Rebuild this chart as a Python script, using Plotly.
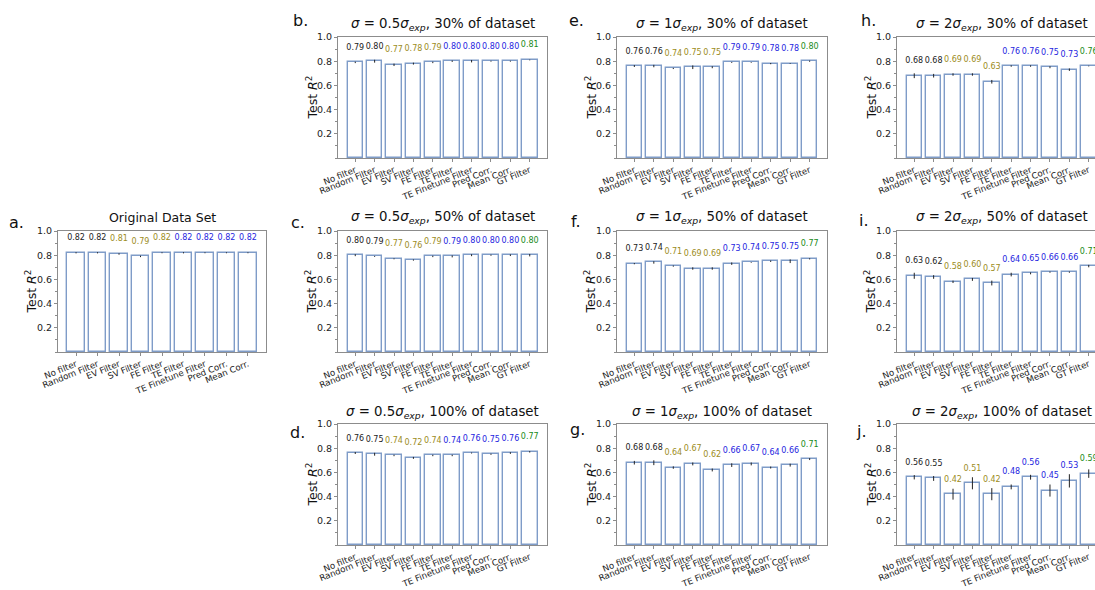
import plotly.graph_objects as go

W, H = 1095, 590

categories = ["No filter", "Random Filter", "EV Filter", "SV Filter", "FE Filter",
              "TE Filter", "TE Finetune Filter", "Pred Corr.", "Mean Corr.", "GT Filter"]
label_colors = ["#222222", "#222222", "#9c8c1c", "#9c8c1c", "#9c8c1c",
                "#2525e0", "#2525e0", "#2525e0", "#2525e0", "#1a8a1a"]

# panel a (original data set, no GT filter)
vals_a = [0.82, 0.82, 0.81, 0.79, 0.82, 0.82, 0.82, 0.82, 0.82]
err_a = [0.005, 0.005, 0.006, 0.006, 0.004, 0.005, 0.004, 0.004, 0.004]

vals_b = [0.79, 0.80, 0.77, 0.78, 0.79, 0.80, 0.80, 0.80, 0.80, 0.81]
err_b = [0.006, 0.012, 0.010, 0.008, 0.006, 0.006, 0.010, 0.004, 0.004, 0.003]
vals_c = [0.80, 0.79, 0.77, 0.76, 0.79, 0.79, 0.80, 0.80, 0.80, 0.80]
err_c = [0.008, 0.004, 0.004, 0.005, 0.006, 0.008, 0.008, 0.005, 0.007, 0.010]
vals_d = [0.76, 0.75, 0.74, 0.72, 0.74, 0.74, 0.76, 0.75, 0.76, 0.77]
err_d = [0.008, 0.012, 0.006, 0.008, 0.006, 0.006, 0.004, 0.005, 0.007, 0.006]
vals_e = [0.76, 0.76, 0.74, 0.75, 0.75, 0.79, 0.79, 0.78, 0.78, 0.80]
err_e = [0.008, 0.010, 0.005, 0.015, 0.008, 0.004, 0.003, 0.005, 0.003, 0.005]
vals_f = [0.73, 0.74, 0.71, 0.69, 0.69, 0.73, 0.74, 0.75, 0.75, 0.77]
err_f = [0.005, 0.010, 0.005, 0.010, 0.010, 0.010, 0.003, 0.006, 0.015, 0.005]
vals_g = [0.68, 0.68, 0.64, 0.67, 0.62, 0.66, 0.67, 0.64, 0.66, 0.71]
err_g = [0.015, 0.020, 0.010, 0.012, 0.012, 0.015, 0.012, 0.008, 0.012, 0.008]
vals_h = [0.68, 0.68, 0.69, 0.69, 0.63, 0.76, 0.76, 0.75, 0.73, 0.76]
err_h = [0.020, 0.015, 0.010, 0.010, 0.015, 0.006, 0.006, 0.008, 0.010, 0.003]
vals_i = [0.63, 0.62, 0.58, 0.60, 0.57, 0.64, 0.65, 0.66, 0.66, 0.71]
err_i = [0.025, 0.015, 0.010, 0.012, 0.020, 0.015, 0.008, 0.005, 0.005, 0.010]
vals_j = [0.56, 0.55, 0.42, 0.51, 0.42, 0.48, 0.56, 0.45, 0.53, 0.59]
err_j = [0.018, 0.020, 0.045, 0.050, 0.050, 0.020, 0.020, 0.050, 0.055, 0.035]

y_ticks = [0.2, 0.4, 0.6, 0.8, 1.0]

# layout geometry (pixels)
cols = {0: (58, 266), 1: (338, 547), 2: (617, 827), 3: (897, 1106)}
rows = {0: (37, 158), 1: (231, 352), 2: (424, 545)}
title_y = {0: 24, 1: 218, 2: 412}

panels = [
    ("a.", 0, 1, "Original Data Set", vals_a, err_a, (16, 223)),
    ("b.", 1, 0, "<i>σ</i> = 0.5<i>σ</i><sub><i>exp</i></sub>, 30% of dataset", vals_b, err_b, (300, 20)),
    ("c.", 1, 1, "<i>σ</i> = 0.5<i>σ</i><sub><i>exp</i></sub>, 50% of dataset", vals_c, err_c, (298, 223)),
    ("d.", 1, 2, "<i>σ</i> = 0.5<i>σ</i><sub><i>exp</i></sub>, 100% of dataset", vals_d, err_d, (297, 432)),
    ("e.", 2, 0, "<i>σ</i> = 1<i>σ</i><sub><i>exp</i></sub>, 30% of dataset", vals_e, err_e, (576, 20)),
    ("f.", 2, 1, "<i>σ</i> = 1<i>σ</i><sub><i>exp</i></sub>, 50% of dataset", vals_f, err_f, (576, 221)),
    ("g.", 2, 2, "<i>σ</i> = 1<i>σ</i><sub><i>exp</i></sub>, 100% of dataset", vals_g, err_g, (577, 430)),
    ("h.", 3, 0, "<i>σ</i> = 2<i>σ</i><sub><i>exp</i></sub>, 30% of dataset", vals_h, err_h, (868, 21)),
    ("i.", 3, 1, "<i>σ</i> = 2<i>σ</i><sub><i>exp</i></sub>, 50% of dataset", vals_i, err_i, (864, 220)),
    ("j.", 3, 2, "<i>σ</i> = 2<i>σ</i><sub><i>exp</i></sub>, 100% of dataset", vals_j, err_j, (861, 431)),
]

FONT = "DejaVu Sans"
FRAME = "#8c8c8c"
EDGE = "#7f9cc8"
LABEL_OFFSET = 0.12


def px_x(p):
    return p / W


def px_y(p):
    return 1 - p / H


fig = go.Figure()
annotations = []

for k, (letter, c, r, title, vals, errs, lpos) in enumerate(panels):
    idx = k + 1
    xa = "x" if idx == 1 else f"x{idx}"
    ya = "y" if idx == 1 else f"y{idx}"
    n = len(vals)
    cats = categories[:n]
    xs = list(range(n))

    fig.add_trace(go.Bar(
        x=xs, y=vals, width=0.8, xaxis=xa, yaxis=ya,
        marker=dict(color="white", line=dict(color=EDGE, width=1.4)),
        error_y=dict(type="data", array=errs, visible=True, color="#222222",
                     thickness=1, width=0),
        showlegend=False, hoverinfo="skip",
    ))
    fig.add_trace(go.Scatter(
        x=xs, y=[v + LABEL_OFFSET for v in vals], xaxis=xa, yaxis=ya,
        mode="text", text=[f"{v:.2f}" for v in vals],
        textfont=dict(family=FONT, size=8, color=label_colors[:n]),
        textposition="middle center", showlegend=False, hoverinfo="skip",
    ))

    x0, x1 = cols[c]
    y0, y1 = rows[r]
    full_range = [-0.4 - 0.05 * (n - 0.2), n - 0.6 + 0.05 * (n - 0.2)]
    if x1 > W:
        span = full_range[1] - full_range[0]
        rng = [full_range[0], full_range[0] + span * (W - x0) / (x1 - x0)]
        dom = [px_x(x0), 1.0]
        mirror_y = False
    else:
        rng = full_range
        dom = [px_x(x0), px_x(x1)]
        mirror_y = True

    xkey = "xaxis" if idx == 1 else f"xaxis{idx}"
    ykey = "yaxis" if idx == 1 else f"yaxis{idx}"
    fig.update_layout(**{
        xkey: dict(domain=dom, range=rng, anchor=ya, tickmode="array",
                   tickvals=xs, ticktext=cats, tickangle=-22, automargin=False,
                   tickfont=dict(family=FONT, size=8.6, color="#222222"),
                   showgrid=False, zeroline=False, showline=True, mirror=True,
                   linecolor=FRAME, linewidth=1, ticks="outside", ticklen=3,
                   tickcolor=FRAME, fixedrange=True),
        ykey: dict(domain=[px_y(y1), px_y(y0)], range=[0, 1], anchor=xa,
                   tickmode="array", tickvals=y_ticks, automargin=False,
                   ticktext=[f"{t:.1f}" for t in y_ticks],
                   tickfont=dict(family=FONT, size=9.5, color="#222222"),
                   showgrid=False, zeroline=False, showline=True, mirror=mirror_y,
                   linecolor=FRAME, linewidth=1, ticks="outside", ticklen=3,
                   tickcolor=FRAME,
                   minor=dict(ticks="outside", ticklen=2, tickcolor=FRAME, dtick=0.1),
                   fixedrange=True),
    })

    tsize = 12.5 if letter == "a." else 13.3
    annotations.append(dict(
        x=px_x((x0 + x1) / 2), y=px_y(title_y[r]), xref="paper", yref="paper",
        text=title, showarrow=False, xanchor="center", yanchor="middle",
        font=dict(family=FONT, size=tsize, color="#111111")))
    annotations.append(dict(
        x=px_x(x0 - 27), y=px_y((y0 + y1) / 2), xref="paper", yref="paper",
        text="Test <i>R</i><sup>2</sup>", textangle=-90, showarrow=False,
        xanchor="center", yanchor="middle",
        font=dict(family=FONT, size=12.5, color="#111111")))
    annotations.append(dict(
        x=px_x(lpos[0]), y=px_y(lpos[1]), xref="paper", yref="paper",
        text=letter, showarrow=False, xanchor="center", yanchor="middle",
        font=dict(family=FONT, size=16, color="#111111")))

fig.update_layout(
    width=W, height=H, margin=dict(l=0, r=0, t=0, b=0, autoexpand=False),
    paper_bgcolor="white", plot_bgcolor="white",
    annotations=annotations, bargap=0,
)

fig.write_html("out.html", config={"displayModeBar": False},
               post_script="document.body.style.margin='0';document.body.style.overflow='hidden';")
